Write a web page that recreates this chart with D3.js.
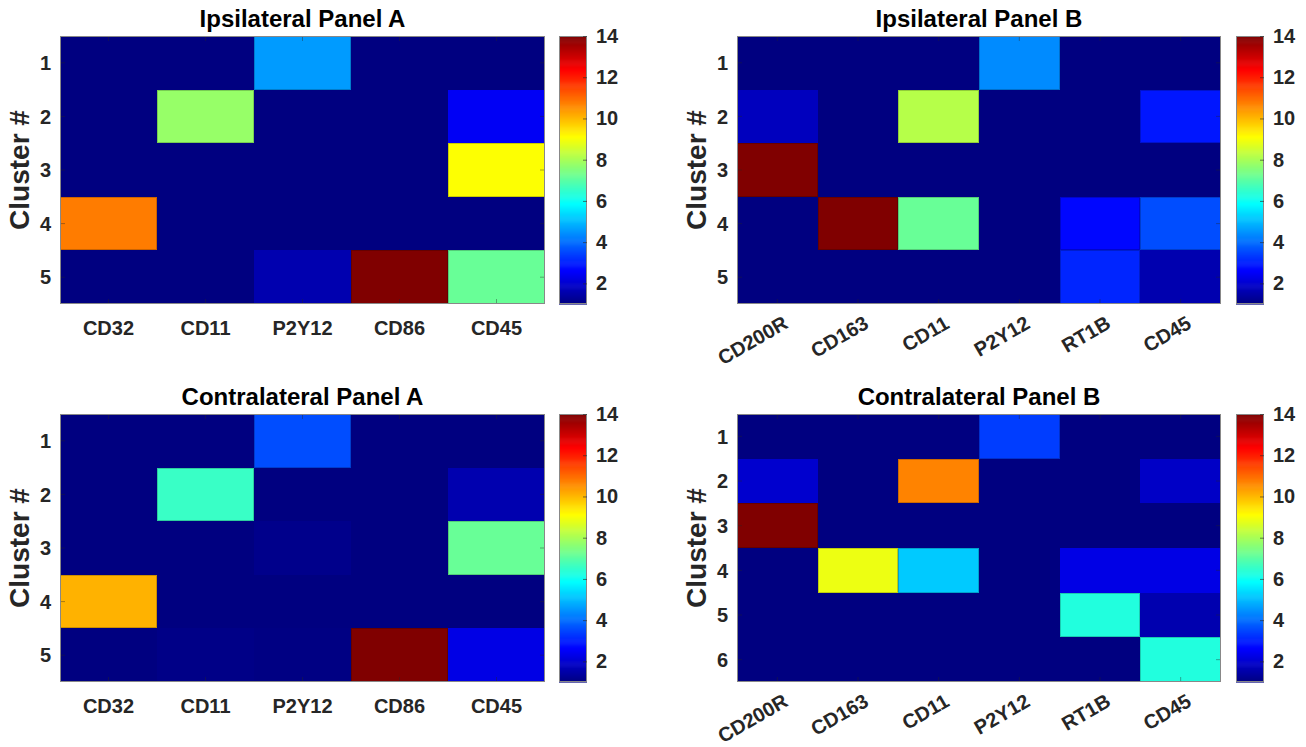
<!DOCTYPE html>
<html>
<head>
<meta charset="utf-8">
<script src="https://cdn.jsdelivr.net/npm/d3@7"></script>
<style>
  body { margin: 0; background: #fff; }
  svg text { font-family: "Liberation Sans", Arial, Helvetica, sans-serif; font-weight: bold; fill: #262626; }
</style>
</head>
<body>
<svg width="1306" height="747"></svg>
<script>
// marker names (columns)
var markersA = ["CD32", "CD11", "P2Y12", "CD86", "CD45"],
    markersB = ["CD200R", "CD163", "CD11", "P2Y12", "RT1B", "CD45"];

// cluster x marker values
var ipsiA = [
  [1.0, 1.0, 4.6, 1.0, 1.0],
  [1.0, 7.8, 1.0, 1.0, 2.5],
  [1.0, 1.0, 1.0, 1.0, 9.1],
  [10.8, 1.0, 1.0, 1.0, 1.0],
  [1.0, 1.0, 1.6, 14.0, 7.2]
];
var ipsiB = [
  [1.0, 1.0, 1.0, 4.4, 1.0, 1.0],
  [1.8, 1.0, 8.2, 1.0, 1.0, 2.9],
  [14.0, 1.0, 1.0, 1.0, 1.0, 1.0],
  [1.0, 14.0, 7.2, 1.0, 2.7, 3.6],
  [1.0, 1.0, 1.0, 1.0, 3.1, 1.6]
];
var contraA = [
  [1.0, 1.0, 3.6, 1.0, 1.0],
  [1.0, 6.6, 1.0, 1.0, 1.6],
  [1.0, 1.0, 1.15, 1.0, 7.2],
  [10.1, 1.0, 1.0, 1.0, 1.0],
  [1.0, 1.1, 1.05, 14.0, 2.3]
];
var contraB = [
  [1.0, 1.0, 1.0, 3.4, 1.0, 1.0],
  [2.0, 1.0, 10.7, 1.0, 1.0, 1.9],
  [14.0, 1.0, 1.0, 1.0, 1.0, 1.0],
  [1.0, 8.9, 5.2, 1.0, 2.3, 2.3],
  [1.0, 1.0, 1.0, 1.0, 6.3, 1.6],
  [1.0, 1.0, 1.0, 1.0, 1.0, 6.3]
];

var colorDomain = [1, 14],
    colorTicks = [2, 4, 6, 8, 10, 12, 14];

// MATLAB jet colormap
function jet(t) {
  function c(v) { return Math.max(0, Math.min(1, v)); }
  var r = c(1.5 - Math.abs(4 * t - 3)),
      g = c(1.5 - Math.abs(4 * t - 2)),
      b = c(1.5 - Math.abs(4 * t - 1));
  return d3.rgb(r * 255, g * 255, b * 255).toString();
}
var color = d3.scaleSequential(jet).domain(colorDomain);

var svg = d3.select("svg");

var panels = [
  { title: "Ipsilateral Panel A", cols: markersA, values: ipsiA, x0: 60, x1: 545, y0: 36, y1: 304, cb: 559, rotate: false },
  { title: "Ipsilateral Panel B", cols: markersB, values: ipsiB, x0: 737, x1: 1221, y0: 36, y1: 304, cb: 1236, rotate: true },
  { title: "Contralateral Panel A", cols: markersA, values: contraA, x0: 60, x1: 545, y0: 414, y1: 682, cb: 559, rotate: false },
  { title: "Contralateral Panel B", cols: markersB, values: contraB, x0: 737, x1: 1221, y0: 414, y1: 682, cb: 1236, rotate: true }
];

panels.forEach(drawPanel);

function drawPanel(p) {
  var rows = d3.range(1, p.values.length + 1);
  var x = d3.scaleBand().domain(p.cols).range([p.x0, p.x1]),
      y = d3.scaleBand().domain(rows).range([p.y0, p.y1]);

  var cells = [];
  p.values.forEach(function(row, i) {
    row.forEach(function(v, j) { cells.push({ row: rows[i], col: p.cols[j], v: v }); });
  });

  var g = svg.append("g");

  g.selectAll("rect.cell")
    .data(cells)
    .enter().append("rect")
      .attr("class", "cell")
      .attr("x", function(d) { return Math.round(x(d.col)); })
      .attr("y", function(d) { return Math.round(y(d.row)); })
      .attr("width", function(d) { return Math.round(x(d.col) + x.bandwidth()) - Math.round(x(d.col)); })
      .attr("height", function(d) { return Math.round(y(d.row) + y.bandwidth()) - Math.round(y(d.row)); })
      .attr("shape-rendering", "crispEdges")
      .attr("fill", function(d) { return color(d.v); });

  // thin outline round coloured cells
  g.selectAll("rect.edge")
    .data(cells.filter(function(d) { return d.v > 2.5; }))
    .enter().append("rect")
      .attr("x", function(d) { return Math.round(x(d.col)) + 0.5; })
      .attr("y", function(d) { return Math.round(y(d.row)) + 0.5; })
      .attr("width", function(d) { return Math.round(x(d.col) + x.bandwidth()) - Math.round(x(d.col)) - 1; })
      .attr("height", function(d) { return Math.round(y(d.row) + y.bandwidth()) - Math.round(y(d.row)) - 1; })
      .attr("fill", "none")
      .attr("stroke", "#000")
      .attr("stroke-opacity", 0.2)
      .attr("stroke-width", 1);

  // inward ticks
  var tk = 5;
  p.cols.forEach(function(c) {
    var cx = x(c) + x.bandwidth() / 2;
    g.append("line").attr("x1", cx).attr("x2", cx).attr("y1", p.y1).attr("y2", p.y1 - tk);
    g.append("line").attr("x1", cx).attr("x2", cx).attr("y1", p.y0).attr("y2", p.y0 + tk);
  });
  rows.forEach(function(r) {
    var cy = y(r) + y.bandwidth() / 2;
    g.append("line").attr("x1", p.x0).attr("x2", p.x0 + tk).attr("y1", cy).attr("y2", cy);
    g.append("line").attr("x1", p.x1).attr("x2", p.x1 - tk).attr("y1", cy).attr("y2", cy);
  });
  g.selectAll("line").attr("stroke", "#262626").attr("stroke-opacity", 0.5).attr("stroke-width", 0.8);

  g.append("rect")
    .attr("x", p.x0 + 0.5).attr("y", p.y0 + 0.5)
    .attr("width", p.x1 - p.x0 - 1).attr("height", p.y1 - p.y0 - 1)
    .attr("fill", "none").attr("stroke", "#888").attr("stroke-width", 1);

  // y tick labels
  g.selectAll("text.ylab")
    .data(rows)
    .enter().append("text")
      .attr("x", p.x0 - 9)
      .attr("y", function(r) { return y(r) + y.bandwidth() / 2; })
      .attr("dy", "0.36em")
      .attr("text-anchor", "end")
      .style("font-size", "20px")
      .text(function(r) { return r; });

  // x tick labels
  var xl = g.selectAll("text.xlab")
    .data(p.cols)
    .enter().append("text")
      .style("font-size", "20px")
      .text(function(c) { return c; });
  if (p.rotate) {
    xl.attr("text-anchor", "end")
      .attr("transform", function(c) {
        return "translate(" + (x(c) + x.bandwidth() / 2 + 5) + "," + (p.y1 + 11) + ") rotate(-30)";
      })
      .attr("dy", "0.7em");
  } else {
    xl.attr("text-anchor", "middle")
      .attr("x", function(c) { return x(c) + x.bandwidth() / 2; })
      .attr("y", p.y1 + 31);
  }

  // titles
  g.append("text")
    .attr("x", (p.x0 + p.x1) / 2)
    .attr("y", p.y0 - 9)
    .attr("text-anchor", "middle")
    .style("font-size", "24px")
    .style("fill", "#000")
    .text(p.title);

  g.append("text")
    .attr("transform", "translate(" + (p.x0 - 31) + "," + ((p.y0 + p.y1) / 2) + ") rotate(-90)")
    .attr("text-anchor", "middle")
    .style("font-size", "28px")
    .text("Cluster #");

  // colour bar
  var cbW = 28;
  var cy = d3.scaleLinear().domain(colorDomain).range([p.y1, p.y0]);
  var steps = d3.range(0, 256);
  var stepH = (p.y1 - p.y0) / 256;
  var cbg = svg.append("g");
  cbg.selectAll("rect")
    .data(steps)
    .enter().append("rect")
      .attr("x", p.cb)
      .attr("width", cbW)
      .attr("y", function(s) { return p.y1 - (s + 1) * stepH; })
      .attr("height", stepH + 0.6)
      .attr("fill", function(s) { return jet((s + 0.5) / 256); });
  cbg.append("rect")
    .attr("x", p.cb + 0.5).attr("y", p.y0 + 0.5)
    .attr("width", cbW - 1).attr("height", p.y1 - p.y0 - 1)
    .attr("fill", "none").attr("stroke", "#888").attr("stroke-width", 1);
  var cax = d3.axisRight(cy).tickValues(colorTicks).tickSize(-4).tickPadding(9);
  var axg = cbg.append("g")
    .attr("transform", "translate(" + (p.cb + cbW) + ",0)")
    .call(cax);
  axg.select(".domain").remove();
  axg.selectAll("line").attr("stroke", "#262626").attr("stroke-opacity", 0.6);
  axg.selectAll("text")
    .attr("font-family", null).attr("font-size", null)
    .style("font-size", "20px");
}
</script>
</body>
</html>
